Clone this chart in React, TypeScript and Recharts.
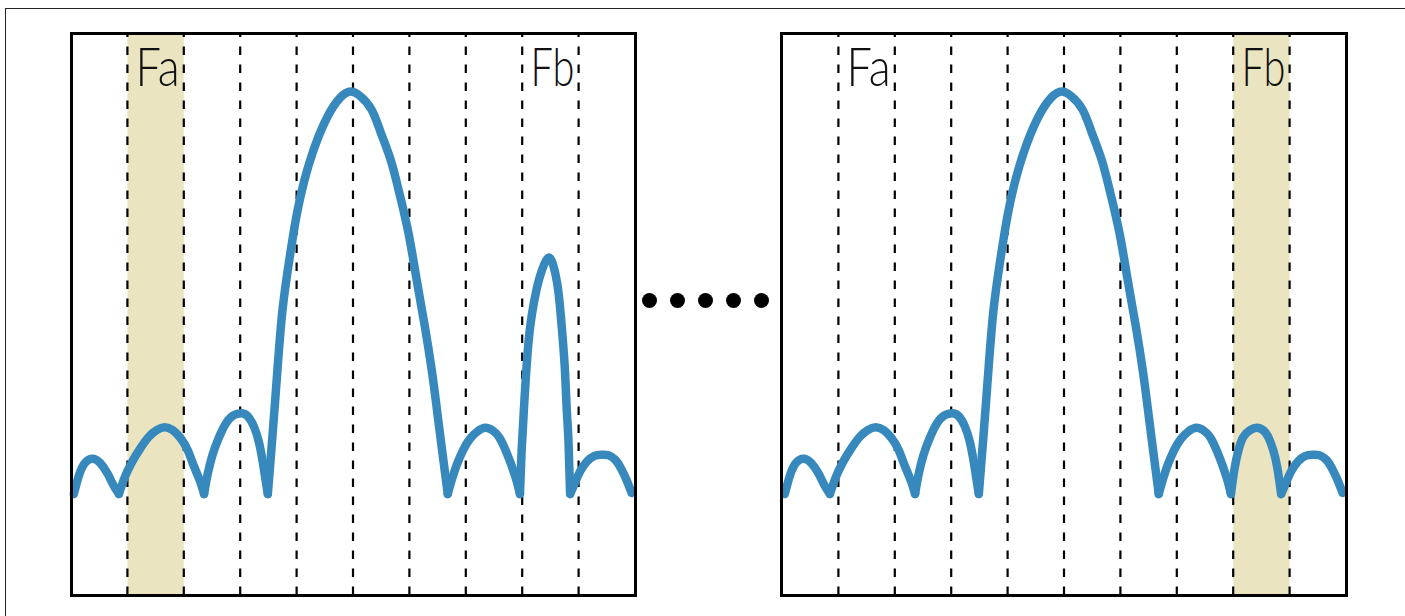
import React from 'react';
import { LineChart, Line, XAxis, YAxis, ReferenceArea, ReferenceLine } from 'recharts';

// each lobe of the response curve, x in bins (0-10), amplitude 0-10
const lobe1 = [
  { f: 0.05, a: 1.8 }, { f: 0.15, a: 2.16 }, { f: 0.26, a: 2.37 }, { f: 0.39, a: 2.43 },
  { f: 0.52, a: 2.35 }, { f: 0.65, a: 2.16 }, { f: 0.75, a: 1.96 }, { f: 0.85, a: 1.8 },
];
const lobe2 = [
  { f: 0.85, a: 1.8 }, { f: 0.95, a: 2.09 }, { f: 1.07, a: 2.35 }, { f: 1.22, a: 2.6 },
  { f: 1.38, a: 2.82 }, { f: 1.52, a: 2.94 }, { f: 1.66, a: 2.99 }, { f: 1.8, a: 2.94 },
  { f: 1.94, a: 2.8 }, { f: 2.07, a: 2.58 }, { f: 2.17, a: 2.32 }, { f: 2.28, a: 2.05 }, { f: 2.36, a: 1.8 },
];
const lobe3 = [
  { f: 2.36, a: 1.8 }, { f: 2.42, a: 2.14 }, { f: 2.51, a: 2.5 }, { f: 2.62, a: 2.8 },
  { f: 2.74, a: 3.05 }, { f: 2.88, a: 3.2 }, { f: 3.02, a: 3.24 }, { f: 3.13, a: 3.19 },
  { f: 3.24, a: 3.01 }, { f: 3.33, a: 2.73 }, { f: 3.4, a: 2.37 }, { f: 3.45, a: 2.05 }, { f: 3.49, a: 1.8 },
];
const mainLobe = [
  { f: 3.49, a: 1.8 }, { f: 3.58, a: 2.94 }, { f: 3.66, a: 4.01 }, { f: 3.75, a: 5.08 },
  { f: 3.87, a: 5.97 }, { f: 4.0, a: 6.77 }, { f: 4.14, a: 7.4 }, { f: 4.3, a: 7.93 },
  { f: 4.5, a: 8.43 }, { f: 4.71, a: 8.79 }, { f: 4.92, a: 8.97 }, { f: 5.12, a: 8.9 },
  { f: 5.33, a: 8.65 }, { f: 5.49, a: 8.25 }, { f: 5.67, a: 7.75 }, { f: 5.83, a: 7.13 },
  { f: 5.99, a: 6.42 }, { f: 6.13, a: 5.61 }, { f: 6.27, a: 4.81 }, { f: 6.4, a: 3.98 },
  { f: 6.5, a: 3.21 }, { f: 6.59, a: 2.5 }, { f: 6.68, a: 1.8 },
];
const lobe5 = [
  { f: 6.68, a: 1.8 }, { f: 6.75, a: 2.05 }, { f: 6.84, a: 2.32 }, { f: 6.95, a: 2.58 },
  { f: 7.07, a: 2.78 }, { f: 7.2, a: 2.91 }, { f: 7.34, a: 2.98 }, { f: 7.48, a: 2.93 },
  { f: 7.6, a: 2.8 }, { f: 7.71, a: 2.57 }, { f: 7.8, a: 2.34 }, { f: 7.89, a: 2.07 }, { f: 7.96, a: 1.8 },
];
const spurLobe = [
  { f: 7.96, a: 1.8 }, { f: 7.99, a: 2.58 }, { f: 8.04, a: 3.48 }, { f: 8.1, a: 4.37 },
  { f: 8.17, a: 4.99 }, { f: 8.26, a: 5.47 }, { f: 8.35, a: 5.79 }, { f: 8.46, a: 6.01 },
  { f: 8.55, a: 5.88 }, { f: 8.62, a: 5.56 }, { f: 8.67, a: 5.14 }, { f: 8.72, a: 4.55 },
  { f: 8.76, a: 3.96 }, { f: 8.79, a: 3.3 }, { f: 8.82, a: 2.76 }, { f: 8.85, a: 1.8 },
];
const lowLobe = [
  { f: 7.96, a: 1.8 }, { f: 8.02, a: 2.23 }, { f: 8.09, a: 2.57 }, { f: 8.18, a: 2.82 },
  { f: 8.3, a: 2.94 }, { f: 8.42, a: 2.98 }, { f: 8.54, a: 2.93 }, { f: 8.63, a: 2.8 },
  { f: 8.71, a: 2.58 }, { f: 8.78, a: 2.28 }, { f: 8.85, a: 1.8 },
];
const lastLobe = [
  { f: 8.85, a: 1.8 }, { f: 8.94, a: 2.01 }, { f: 9.03, a: 2.21 }, { f: 9.15, a: 2.38 },
  { f: 9.28, a: 2.48 }, { f: 9.41, a: 2.5 }, { f: 9.53, a: 2.49 }, { f: 9.65, a: 2.41 },
  { f: 9.75, a: 2.26 }, { f: 9.85, a: 2.05 }, { f: 9.94, a: 1.82 },
];

const leftLobes = [lobe1, lobe2, lobe3, mainLobe, lobe5, spurLobe, lastLobe];
const rightLobes = [lobe1, lobe2, lobe3, mainLobe, lobe5, lowLobe, lastLobe];

const binEdges = [1, 2, 3, 4, 5, 6, 7, 8, 9];
const labelBins = [1, 8];
const labelTexts = ['Fa', 'Fb'];

const PLOT_W = 564;
const PLOT_H = 561;
const PAD = 8;
const BLUE = '#3789bd';

const binLabel = (text: string) => (props: any) => {
  const { x, y, width } = props.viewBox;
  return (
    <text
      x={x + width / 2 + 2}
      y={y + 52}
      textAnchor="middle"
      fontFamily="Lato, Roboto, sans-serif"
      fontWeight={300}
      fontSize={53}
      fill="#111"
      textLength={44}
      lengthAdjust="spacingAndGlyphs"
    >
      {text}
    </text>
  );
};

const Panel = ({ left, lobes, shadedBin }: { left: number; lobes: any[][]; shadedBin: number }) => (
  <div style={{ position: 'absolute', left: left - PAD, top: 34 - PAD }}>
    <LineChart
      width={PLOT_W + 2 * PAD}
      height={PLOT_H + 2 * PAD}
      margin={{ top: PAD, right: PAD, bottom: PAD, left: PAD }}
    >
      <XAxis type="number" dataKey="f" domain={[0, 10]} hide />
      <YAxis type="number" dataKey="a" domain={[0, 10]} hide />
      <ReferenceArea x1={shadedBin} x2={shadedBin + 1} y1={0} y2={10} fill="#ebe4c0" fillOpacity={1} stroke="none" />
      {binEdges.map((x) => (
        <ReferenceLine key={x} x={x} stroke="#000" strokeWidth={2.2} strokeDasharray="8.5 9.5" />
      ))}
      {labelBins.map((b, i) => (
        <ReferenceArea
          key={'lab' + b}
          x1={b}
          x2={b + 1}
          y1={0}
          y2={10}
          fill="none"
          stroke="none"
          label={binLabel(labelTexts[i])}
        />
      ))}
      {lobes.map((d, i) => (
        <Line
          key={i}
          data={d}
          dataKey="a"
          type="natural"
          dot={false}
          activeDot={false}
          stroke={BLUE}
          strokeWidth={8.5}
          strokeLinecap="round"
          strokeLinejoin="round"
          isAnimationActive={false}
        />
      ))}
    </LineChart>
    <div
      style={{
        position: 'absolute',
        left: PAD - 1.75,
        top: PAD - 1.75,
        width: PLOT_W + 3.5,
        height: PLOT_H + 3.5,
        border: '3.5px solid #000',
        boxSizing: 'border-box',
        pointerEvents: 'none',
      }}
    />
  </div>
);

export default function App() {
  return (
    <div style={{ position: 'absolute', left: 0, top: 0, width: 1405, height: 616, overflow: 'hidden', background: '#fff' }}>
      <div
        style={{
          position: 'absolute',
          left: 5,
          top: 8,
          width: 1400,
          height: 608,
          borderTop: '1px solid #222',
          borderLeft: '1px solid #222',
        }}
      />
      <Panel left={71.25} lobes={leftLobes} shadedBin={1} />
      <Panel left={782} lobes={rightLobes} shadedBin={8} />
      <div style={{ position: 'absolute', left: 641.8, top: 292.5, display: 'flex', gap: 13 }}>
        {Array.from({ length: 5 }).map((_, i) => (
          <div key={i} style={{ width: 15, height: 15, borderRadius: '50%', background: '#000' }} />
        ))}
      </div>
    </div>
  );
}
